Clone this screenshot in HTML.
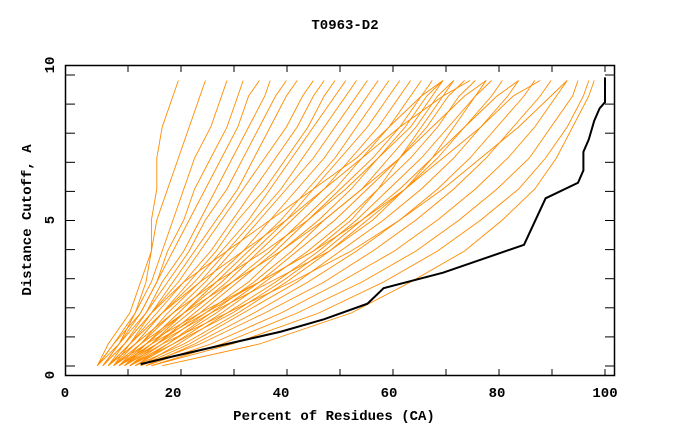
<!DOCTYPE html>
<html><head><meta charset="utf-8"><style>
body{margin:0;background:#fff}
svg{display:block}
text{font-family:"Liberation Mono",monospace;font-weight:bold;font-size:14px;fill:#000}
</style></head><body>
<svg id="chart" width="680" height="440" viewBox="0 0 680 440">
<text x="345" y="29" text-anchor="middle">T0963-D2</text>
<rect x="65.5" y="65.5" width="549" height="310" fill="none" stroke="#000" stroke-width="1.5"/>
<g id="ticks"></g>
<g id="series"></g>
<g id="labels"></g>
<text x="334" y="420" text-anchor="middle">Percent of Residues (CA)</text>
<text transform="translate(31,220) rotate(-90)" text-anchor="middle">Distance Cutoff, A</text>
</svg>
<script>
const levels=[0.3,1,2,3,4,5,6,7,8,9,9.5];
const xTicks=[0,20,40,60,80,100];
const yTicks=[0,5,10];
const models=[
[6,9,13,15,16,16,17,17,18,20,21],
[6,8,12,14,16,17,19,21,23,25,26],
[7,10,13,16,18,20,22,24,27,29,30],
[6,9,14,17,19,22,24,27,30,32,33],
[7,10,14,17,20,23,26,29,32,34,36],
[6,10,15,18,22,25,28,31,34,37,38],
[8,11,15,19,23,26,30,33,36,39,41],
[7,11,16,20,24,28,32,35,38,41,43],
[8,12,16,21,25,29,33,37,41,44,46],
[9,12,17,22,27,31,35,39,43,46,48],
[8,13,18,23,28,32,37,41,45,48,50],
[9,13,18,24,29,34,38,42,46,50,52],
[10,14,19,25,30,35,40,44,48,52,54],
[9,14,20,26,31,36,41,46,50,54,56],
[10,15,21,27,33,38,43,48,52,56,58],
[11,15,22,28,34,40,45,50,54,58,60],
[10,16,22,29,35,41,46,51,56,60,62],
[11,16,23,30,36,42,48,53,58,62,64],
[12,17,24,31,38,44,50,55,60,64,66],
[11,17,25,32,39,45,51,57,62,66,68],
[12,18,26,34,40,47,53,58,63,67,70],
[13,19,27,35,42,48,55,60,65,69,72],
[12,19,28,36,43,50,56,62,67,71,74],
[13,20,29,37,45,52,58,64,69,73,76],
[14,21,30,39,47,54,60,66,71,76,78],
[13,22,32,41,49,56,63,69,74,79,81],
[14,23,33,43,51,59,66,72,77,82,84],
[15,24,35,45,54,62,69,75,80,85,87],
[14,25,37,48,57,65,72,78,83,88,90],
[15,27,40,51,61,69,76,82,87,91,93],
[16,29,43,55,65,73,80,86,90,94,95],
[16,31,47,59,69,77,84,89,93,96,97],
[18,36,53,64,74,81,87,91,94,97,98],
[9,15,25,36,46,53,58,62,66,70,72],
[10,17,27,38,49,57,63,68,72,76,79],
[8,13,20,28,37,45,52,58,64,68,70],
[11,18,30,42,53,62,70,77,84,90,93],
[7,11,16,22,30,38,46,54,60,66,70],
[9,14,22,31,40,48,55,62,68,74,78],
[10,16,26,36,46,55,63,70,77,83,88],
[12,20,31,40,48,55,62,68,74,80,84],
[8,12,18,25,33,41,48,55,62,70,75]
];
const refX=[14,20,40,48,56,59,70,85,89,95,96,96,97,98,99,100,100];
const refY=[0.35,0.6,1.4,1.8,2.3,2.8,3.3,4.2,5.7,6.2,6.6,7.2,7.6,8.2,8.6,8.8,9.6];
const sx=v=>65+v*5.4, sy=v=>375-v*31;
const NS="http://www.w3.org/2000/svg";
const tg=document.getElementById('ticks'),sg=document.getElementById('series'),lg=document.getElementById('labels');
for(let k=0;k<10;k++){const x=128+53*k;
 [[375,369],[66,72]].forEach(p=>{const l=document.createElementNS(NS,'line');
 
 
 l.setAttribute('x1',x);l.setAttribute('x2',x);l.setAttribute('y1',p[0]);l.setAttribute('y2',p[1]);l.setAttribute('stroke','#000');tg.appendChild(l);});}
for(let k=0;k<11;k++){const y=75+29.1*k;
 [[66,75],[614,605]].forEach(p=>{const l=document.createElementNS(NS,'line');
 
 
 l.setAttribute('x1',p[0]);l.setAttribute('x2',p[1]);l.setAttribute('y1',y);l.setAttribute('y2',y);l.setAttribute('stroke','#000');tg.appendChild(l);});}
xTicks.forEach(v=>{const t=document.createElementNS(NS,'text');
 
 
 t.setAttribute('x',sx(v));t.setAttribute('y',397);t.setAttribute('text-anchor','middle');t.textContent=v;lg.appendChild(t);});
yTicks.forEach(v=>{const t=document.createElementNS(NS,'text');
 
 
 t.setAttribute('transform',`translate(54,${sy(v)}) rotate(-90)`);t.setAttribute('text-anchor','middle');t.textContent=v;lg.appendChild(t);});
models.forEach(m=>{const p=document.createElementNS(NS,'polyline');
 
 
 p.setAttribute('points',m.map((x,i)=>sx(x)+','+sy(levels[i])).join(' '));
 p.setAttribute('fill','none');p.setAttribute('stroke','#ff8c00');p.setAttribute('stroke-width','0.9');sg.appendChild(p);});
const r=document.createElementNS(NS,'polyline');


r.setAttribute('points',refX.map((x,i)=>sx(x)+','+sy(refY[i])).join(' '));
r.setAttribute('fill','none');r.setAttribute('stroke','#000');r.setAttribute('stroke-width','2');sg.appendChild(r);
</script>
</body></html>
